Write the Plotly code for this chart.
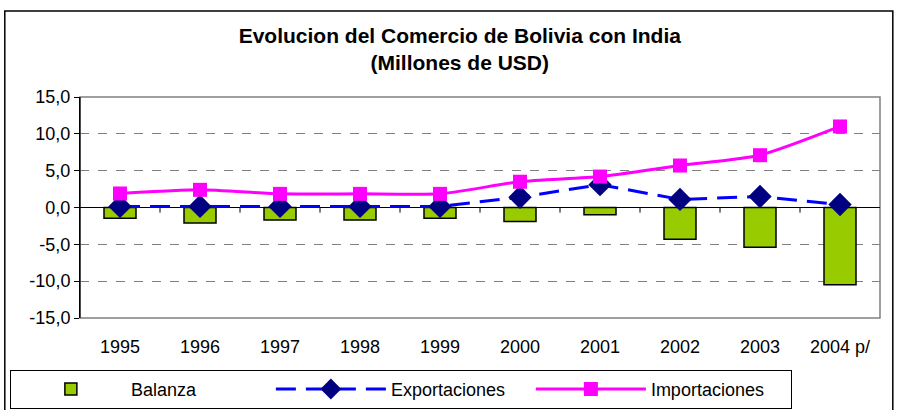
import plotly.graph_objects as go

# datos (millones de USD)
years = ["1995", "1996", "1997", "1998", "1999", "2000", "2001", "2002", "2003", "2004 p/"]
balanza = [-1.45, -2.1, -1.7, -1.7, -1.45, -1.9, -1.0, -4.3, -5.4, -10.5]
exportaciones = [0.15, 0.15, 0.15, 0.15, 0.15, 1.4, 3.1, 1.1, 1.5, 0.4]
importaciones = [1.9, 2.4, 1.85, 1.85, 1.85, 3.5, 4.2, 5.7, 7.1, 11.0]
y_ticks = [-15, -10, -5, 0, 5, 10, 15]

FONT = "Liberation Sans, Arial, sans-serif"

fig = go.Figure()
fig.add_trace(go.Bar(x=years, y=balanza, name="Balanza", width=0.4,
                     marker=dict(color="#99CC00", line=dict(color="black", width=1.5))))
fig.add_trace(go.Scatter(x=years, y=exportaciones, name="Exportaciones", mode="lines+markers",
                         line=dict(color="#0000FF", width=3, dash="20px,10px"),
                         marker=dict(symbol="diamond", size=18, color="#000080")))
fig.add_trace(go.Scatter(x=years, y=importaciones, name="Importaciones", mode="lines+markers",
                         line=dict(color="#FF00FF", width=3, shape="spline", smoothing=0.6),
                         marker=dict(symbol="square", size=14, color="#FF00FF")))

fig.update_layout(
    width=898, height=410,
    margin=dict(l=80, r=18, t=97, b=92, autoexpand=False),
    paper_bgcolor="white", plot_bgcolor="white",
    font=dict(family=FONT, size=18, color="black"),
    title=dict(text="<b>Evolucion del Comercio de Bolivia con India<br>(Millones de USD)</b>",
               x=0.512, xanchor="center", xref="container",
               y=0.895, yanchor="top", yref="container",
               font=dict(family=FONT, size=21)),
    showlegend=True,
    legend=dict(orientation="h", xref="container", x=0.011, xanchor="left",
                yref="container", y=0.098, yanchor="top",
                bordercolor="black", borderwidth=1, bgcolor="white",
                entrywidth=135, entrywidthmode="pixels", itemwidth=110,
                font=dict(family=FONT, size=18), traceorder="normal"),
)

fig.update_xaxes(type="category", range=[-0.5, 9.5], showline=False, showgrid=False,
                 ticks="", tickfont=dict(size=18), ticklabelstandoff=16)
fig.update_yaxes(range=[-15, 15], tickvals=y_ticks,
                 ticktext=[f"{v:.1f}".replace(".", ",") for v in y_ticks],
                 showgrid=True, gridcolor="#808080", gridwidth=1, griddash="dash",
                 zeroline=True, zerolinecolor="black", zerolinewidth=1,
                 showline=True, linecolor="black", linewidth=1,
                 ticks="outside", ticklen=5, tickcolor="black",
                 tickfont=dict(size=18))

# marcas de categoria sobre el eje cero
for i in range(len(years) - 1):
    fig.add_shape(type="line", xref="x", yref="y", x0=i + 0.5, x1=i + 0.5, y0=0, y1=-0.7,
                  line=dict(color="black", width=1))

# marco del area de trazado y del grafico
fig.add_shape(type="rect", xref="paper", yref="paper", x0=0, x1=1, y0=0, y1=1,
              line=dict(color="#808080", width=1.5), layer="below")
fig.add_shape(type="line", xref="paper", yref="paper", x0=0, x1=0, y0=0, y1=1,
              line=dict(color="black", width=1))
fig.add_shape(type="rect", xref="paper", yref="paper", x0=-0.094, x1=1.016, y0=-0.6, y1=1.389,
              line=dict(color="black", width=1.5))

# sin margen del body para que la figura empiece en (0, 0)
fig.write_html("out.html", config={"displayModeBar": False},
               post_script="document.body.style.margin='0';")
